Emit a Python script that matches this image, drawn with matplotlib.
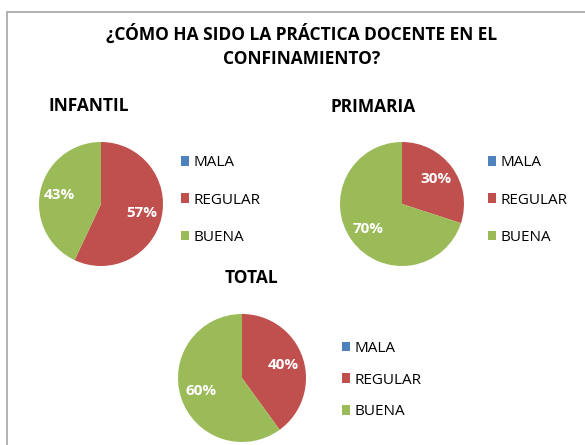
import matplotlib
matplotlib.use("Agg")
import matplotlib.pyplot as plt
from matplotlib.patches import Rectangle

# Data
categories = ["MALA", "REGULAR", "BUENA"]
infantil = [0, 57, 43]
primaria = [0, 30, 70]
total = [0, 40, 60]
colors = ["#4F81BD", "#C0504D", "#9BBB59"]

title = "¿CÓMO HA SIDO LA PRÁCTICA DOCENTE EN EL\nCONFINAMIENTO?"

W, H = 585, 445
plt.rcParams['font.family'] = ['Open Sans', 'DejaVu Sans']

fig = plt.figure(figsize=(W / 100, H / 100), dpi=100)
fig.patch.set_facecolor("white")


def px_axes(cx, cy, r):
    """Axes square around a pie centre given in pixel coords (from top)."""
    return fig.add_axes([(cx - r) / W, 1 - (cy + r) / H, 2 * r / W, 2 * r / H])


def pct_label(p):
    return "" if p < 0.5 else "%d%%" % round(p)


def draw_pie(cx, cy, r, values, pctdist, legend_x, legend_y, spacing):
    ax = px_axes(cx, cy, r)
    wedges, _, autotexts = ax.pie(
        values, colors=colors, startangle=90, counterclock=False,
        radius=1.0, autopct=pct_label, pctdistance=pctdist,
        wedgeprops=dict(linewidth=0))
    for t in autotexts:
        t.set_color("white")
        t.set_fontweight("bold")
        t.set_fontsize(11)
    ax.set_xlim(-1, 1)
    ax.set_ylim(-1, 1)
    ax.set_aspect("equal")
    ax.axis("off")
    fig.legend(wedges, categories, loc="center left",
               bbox_to_anchor=(legend_x / W, 1 - legend_y / H),
               frameon=False, fontsize=11, handlelength=0.55,
               handleheight=0.55, handletextpad=0.3,
               labelspacing=spacing, borderpad=0, borderaxespad=0)
    return ax


draw_pie(101, 204, 62, infantil, 0.68, 181, 200, 1.45)
draw_pie(402, 204, 62, primaria, 0.68, 488, 200, 1.45)
draw_pie(242, 378, 64, total, 0.68, 342, 380, 1.1)

fig.text(302 / W, 1 - 46 / H, title, ha="center", va="center",
         fontsize=12.5, fontweight="bold", linespacing=1.45)
fig.text(49 / W, 1 - 106 / H, "INFANTIL", ha="left", va="center",
         fontsize=12.5, fontweight="bold")
fig.text(330 / W, 1 - 107 / H, "PRIMARIA", ha="left", va="center",
         fontsize=12.5, fontweight="bold")
fig.text(251 / W, 1 - 278 / H, "TOTAL", ha="center", va="center",
         fontsize=12.5, fontweight="bold")

# chart border
fig.patches.append(Rectangle((7 / W, -0.01), 1.02, 1 - 12 / H + 0.01,
                             transform=fig.transFigure, fill=False,
                             edgecolor="#A6A6A6", linewidth=1.2))

fig.savefig("out.png", dpi=100)
